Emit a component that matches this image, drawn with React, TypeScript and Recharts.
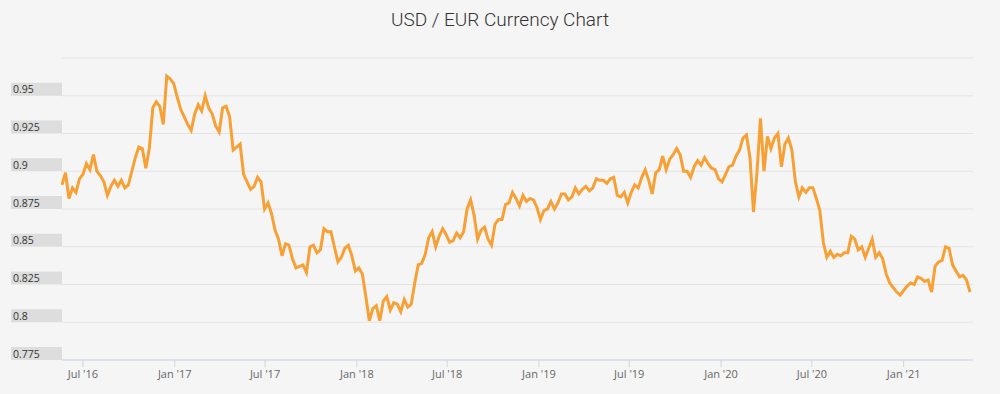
import React from 'react';
import { LineChart, Line, XAxis, YAxis, CartesianGrid } from 'recharts';

// weekly closes (Fridays) starting 2016-05-20
const startDate = '2016-05-20';
const endDate = '2021-05-20';

const rates2016 = [
  0.891, 0.899, 0.882, 0.889, 0.886, 0.895, 0.898, 0.905, 0.901, 0.911,
  0.9, 0.897, 0.893, 0.884, 0.89, 0.894, 0.89, 0.894, 0.889, 0.891,
  0.9, 0.909, 0.916, 0.915, 0.902, 0.915, 0.942, 0.946, 0.943, 0.931,
  0.963, 0.961, 0.958,
];
const rates2017 = [
  0.949, 0.941, 0.936, 0.931, 0.927, 0.938, 0.944,
  0.94, 0.95, 0.942, 0.938, 0.93, 0.926, 0.942, 0.943, 0.936, 0.914,
  0.916, 0.918, 0.898, 0.893, 0.888, 0.89, 0.896, 0.893, 0.875, 0.879,
  0.872, 0.861, 0.855, 0.844, 0.852, 0.851, 0.842, 0.836, 0.837, 0.838,
  0.833, 0.85, 0.851, 0.846, 0.848, 0.862, 0.86, 0.86, 0.85, 0.84,
  0.843, 0.849, 0.851, 0.844, 0.834,
];
const rates2018 = [
  0.836, 0.832, 0.817, 0.801, 0.809,
  0.811, 0.801, 0.814, 0.817, 0.808, 0.813, 0.812, 0.807, 0.815, 0.81,
  0.812, 0.826, 0.838, 0.839, 0.845, 0.856, 0.86, 0.85, 0.857, 0.862,
  0.858, 0.853, 0.854, 0.859, 0.856, 0.86, 0.875, 0.881, 0.871, 0.855,
  0.861, 0.863, 0.855, 0.851, 0.865, 0.868, 0.868, 0.878, 0.879, 0.886,
  0.882, 0.877, 0.884, 0.88, 0.882, 0.881, 0.876,
];
const rates2019 = [
  0.868, 0.874, 0.875,
  0.88, 0.875, 0.879, 0.885, 0.885, 0.881, 0.883, 0.889, 0.885, 0.888,
  0.89, 0.887, 0.889, 0.895, 0.894, 0.894, 0.892, 0.895, 0.896, 0.884,
  0.883, 0.886, 0.879, 0.886, 0.891, 0.889, 0.896, 0.901, 0.894, 0.885,
  0.899, 0.901, 0.91, 0.901, 0.908, 0.911, 0.915, 0.911, 0.9, 0.9,
  0.896, 0.903, 0.907, 0.904, 0.909, 0.905, 0.902, 0.901, 0.895,
];
const rates2020 = [
  0.893,
  0.898, 0.903, 0.904, 0.91, 0.914, 0.922, 0.924, 0.909, 0.873, 0.899,
  0.935, 0.9, 0.923, 0.915, 0.922, 0.925, 0.903, 0.918, 0.922, 0.914,
  0.893, 0.883, 0.889, 0.886, 0.889, 0.889, 0.882, 0.874, 0.853, 0.843,
  0.847, 0.843, 0.845, 0.844, 0.846, 0.846, 0.857, 0.855, 0.848, 0.85,
  0.843, 0.849, 0.855, 0.843, 0.846, 0.842, 0.832, 0.826, 0.823, 0.82,
  0.818,
];
const rates2021 = [
  0.821, 0.824, 0.826, 0.825, 0.83, 0.829, 0.827, 0.828, 0.82,
  0.837, 0.84, 0.841, 0.85, 0.849, 0.838, 0.834, 0.83, 0.831, 0.828, 0.82,
];

const xTicks = [
  '2016-07-01', '2017-01-01', '2017-07-01', '2018-01-01', '2018-07-01',
  '2019-01-01', '2019-07-01', '2020-01-01', '2020-07-01', '2021-01-01',
];
const yTicks = [0.775, 0.8, 0.825, 0.85, 0.875, 0.9, 0.925, 0.95, 0.975];
const monthNames = ['Jan', 'Feb', 'Mar', 'Apr', 'May', 'Jun', 'Jul', 'Aug', 'Sep', 'Oct', 'Nov', 'Dec'];

const DAY = 24 * 3600 * 1000;
const allRates = [...rates2016, ...rates2017, ...rates2018, ...rates2019, ...rates2020, ...rates2021];
const t0 = Date.parse(startDate);
const data = allRates.map((rate, i) => ({ t: t0 + i * 7 * DAY, rate }));

const formatTick = (t: number) => {
  const d = new Date(t);
  return `${monthNames[d.getUTCMonth()]} '${String(d.getUTCFullYear()).slice(2)}`;
};

const YTick = (props: any) => {
  const { y, payload } = props;
  if (payload.value >= 0.975) return null;
  return (
    <g>
      <rect x={11} y={y - 13} width={51} height={13} fill="#dddddd" />
      <text x={13} y={y - 2.5} fontSize={10.5} fill="#333" fontFamily="'Open Sans', sans-serif">
        {String(payload.value)}
      </text>
    </g>
  );
};

export default function App() {
  return (
    <div style={{ position: 'absolute', left: 0, top: 0, width: 1000, height: 394, background: '#f5f5f5' }}>
      <div
        style={{
          position: 'absolute',
          top: 8,
          width: 1000,
          textAlign: 'center',
          fontFamily: 'Roboto, sans-serif',
          fontWeight: 300,
          fontSize: 19,
          color: '#333',
        }}
      >
        USD / EUR Currency Chart
      </div>
      <LineChart width={1000} height={394} data={data} margin={{ top: 58, right: 27, left: 0, bottom: 0 }}>
        <CartesianGrid vertical={false} stroke="#e3e3e3" />
        <XAxis
          dataKey="t"
          type="number"
          domain={[t0, Date.parse(endDate)]}
          ticks={xTicks.map((d) => Date.parse(d))}
          tickFormatter={formatTick}
          height={34}
          stroke="#ccd6eb"
          tickSize={7}
          tickMargin={3}
          tick={{ fill: '#666', fontSize: 11, fontFamily: "'Open Sans', sans-serif" }}
        />
        <YAxis
          domain={[0.775, 0.975]}
          ticks={yTicks}
          width={62}
          axisLine={false}
          tickLine={false}
          tick={<YTick />}
        />
        <Line
          type="linear"
          dataKey="rate"
          stroke="#f7a035"
          strokeWidth={3}
          dot={false}
          isAnimationActive={false}
        />
      </LineChart>
    </div>
  );
}
